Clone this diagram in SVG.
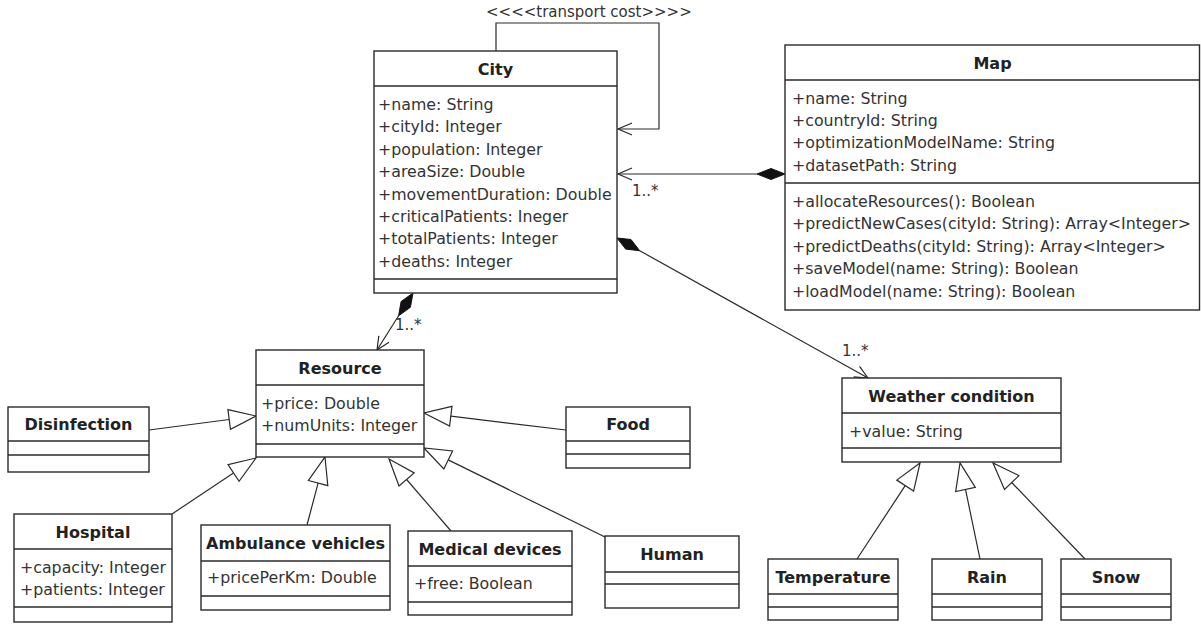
<svg xmlns="http://www.w3.org/2000/svg" width="1201" height="626" viewBox="0 0 1201 626">
<style>
.box{fill:#fff;stroke:#2a2a2a;stroke-width:1.4}
.sep{stroke:#2a2a2a;stroke-width:1.4;fill:none}
.t{font-family:"DejaVu Sans",Verdana,sans-serif;font-size:15.8px;fill:#333}
.b{font-family:"DejaVu Sans",Verdana,sans-serif;font-size:16px;font-weight:bold;fill:#222;text-anchor:middle}
.lbl{font-family:"DejaVu Sans",Verdana,sans-serif;font-size:15px;fill:#333}
.ln{stroke:#2a2a2a;stroke-width:1.2;fill:none}
.tri{fill:#fff;stroke:#2a2a2a;stroke-width:1.2}
.dia{fill:#111;stroke:#111;stroke-width:1}
</style>
<rect width="1201" height="626" fill="#fff"/>

<g id="connectors">
  <!-- self loop City -->
  <polyline class="ln" points="496,51 496,23 659,23 659,129 618,129"/>
  <polyline class="ln" points="632,123 618,129 632,135"/>
  <text class="lbl" x="486" y="17">&lt;&lt;&lt;&lt;transport cost&gt;&gt;&gt;&gt;</text>
  <!-- Map - City -->
  <line class="ln" x1="618" y1="174" x2="757" y2="174"/>
  <polyline class="ln" points="632,168 618,174 632,180"/>
  <polygon class="dia" points="785,174 771,168.5 757,174 771,179.5"/>
  <text class="lbl" x="632" y="196">1..*</text>
  <!-- City - Weather -->
  <polygon class="dia" points="617,238 625.7,249.1 639.7,250.7 631,239.5"/>
  <line class="ln" x1="639.7" y1="250.7" x2="868" y2="378"/>
  <polyline class="ln" points="859.5,366.4 868,378 853.6,376.9"/>
  <text class="lbl" x="842" y="356">1..*</text>
  <!-- City - Resource -->
  <polygon class="dia" points="413,293 410.4,307.3 398.6,315.8 401.1,301.5"/>
  <line class="ln" x1="398.6" y1="315.8" x2="377" y2="350"/>
  <polyline class="ln" points="389,342.2 377,350 378.8,335.8"/>
  <text class="lbl" x="395" y="330">1..*</text>
  <!-- generalizations to Resource -->
  <line class="ln" x1="149" y1="430" x2="229.2" y2="419.5"/>
  <polygon class="tri" points="256,416 230.5,429.4 227.9,409.6"/>
  <line class="ln" x1="566" y1="430" x2="450.8" y2="416.2"/>
  <polygon class="tri" points="424,413 449.6,426.1 452,406.3"/>
  <line class="ln" x1="172" y1="514" x2="233.5" y2="473"/>
  <polygon class="tri" points="256,458 239.1,481.3 228,464.7"/>
  <line class="ln" x1="307" y1="525" x2="318.1" y2="483.1"/>
  <polygon class="tri" points="325,457 327.8,485.7 308.4,480.5"/>
  <line class="ln" x1="451" y1="531" x2="406.6" y2="479.5"/>
  <polygon class="tri" points="389,459 399,486 414.2,472.9"/>
  <line class="ln" x1="605" y1="537" x2="448.2" y2="459.9"/>
  <polygon class="tri" points="424,448 443.8,468.9 452.6,450.9"/>
  <!-- generalizations to Weather condition -->
  <line class="ln" x1="857" y1="559" x2="905.2" y2="485.6"/>
  <polygon class="tri" points="920,463 913.6,491.1 896.8,480.1"/>
  <line class="ln" x1="980" y1="559" x2="965.5" y2="489.4"/>
  <polygon class="tri" points="960,463 955.7,491.5 975.3,487.4"/>
  <line class="ln" x1="1085" y1="559" x2="1011.7" y2="482.5"/>
  <polygon class="tri" points="993,463 1004.5,489.4 1018.9,475.6"/>
</g>

<g id="city">
  <rect class="box" x="374" y="51" width="243" height="242"/>
  <line class="sep" x1="374" y1="86" x2="617" y2="86"/>
  <line class="sep" x1="374" y1="279" x2="617" y2="279"/>
  <text class="b" x="495.5" y="75">City</text>
  <text class="t" x="378" y="110">+name: String</text>
  <text class="t" x="378" y="132.4">+cityId: Integer</text>
  <text class="t" x="378" y="154.8">+population: Integer</text>
  <text class="t" x="378" y="177.2">+areaSize: Double</text>
  <text class="t" x="378" y="199.6">+movementDuration: Double</text>
  <text class="t" x="378" y="222">+criticalPatients: Ineger</text>
  <text class="t" x="378" y="244.4">+totalPatients: Integer</text>
  <text class="t" x="378" y="266.8">+deaths: Integer</text>
</g>

<g id="map">
  <rect class="box" x="785" y="45" width="414.5" height="265"/>
  <line class="sep" x1="785" y1="80" x2="1199.5" y2="80"/>
  <line class="sep" x1="785" y1="183" x2="1199.5" y2="183"/>
  <text class="b" x="992.5" y="68.5">Map</text>
  <text class="t" x="792" y="104">+name: String</text>
  <text class="t" x="792" y="126.2">+countryId: String</text>
  <text class="t" x="792" y="148.4">+optimizationModelName: String</text>
  <text class="t" x="792" y="170.6">+datasetPath: String</text>
  <text class="t" x="792" y="207">+allocateResources(): Boolean</text>
  <text class="t" x="792" y="229.4">+predictNewCases(cityId: String): Array&lt;Integer&gt;</text>
  <text class="t" x="792" y="251.8">+predictDeaths(cityId: String): Array&lt;Integer&gt;</text>
  <text class="t" x="792" y="274.2">+saveModel(name: String): Boolean</text>
  <text class="t" x="792" y="296.6">+loadModel(name: String): Boolean</text>
</g>

<g id="resource">
  <rect class="box" x="256" y="350" width="168" height="107"/>
  <line class="sep" x1="256" y1="385" x2="424" y2="385"/>
  <line class="sep" x1="256" y1="444" x2="424" y2="444"/>
  <text class="b" x="340" y="373.5">Resource</text>
  <text class="t" x="261" y="408.5">+price: Double</text>
  <text class="t" x="261" y="430.5">+numUnits: Integer</text>
</g>

<g id="disinfection">
  <rect class="box" x="8" y="407" width="141" height="65"/>
  <line class="sep" x1="8" y1="441" x2="149" y2="441"/>
  <line class="sep" x1="8" y1="455" x2="149" y2="455"/>
  <text class="b" x="78.5" y="430">Disinfection</text>
</g>

<g id="food">
  <rect class="box" x="566" y="407" width="124" height="61"/>
  <line class="sep" x1="566" y1="441" x2="690" y2="441"/>
  <line class="sep" x1="566" y1="454" x2="690" y2="454"/>
  <text class="b" x="628" y="430">Food</text>
</g>

<g id="hospital">
  <rect class="box" x="14" y="514" width="158" height="108"/>
  <line class="sep" x1="14" y1="549" x2="172" y2="549"/>
  <line class="sep" x1="14" y1="607" x2="172" y2="607"/>
  <text class="b" x="93" y="537.5">Hospital</text>
  <text class="t" x="20" y="572.5">+capacity: Integer</text>
  <text class="t" x="20" y="594.5">+patients: Integer</text>
</g>

<g id="ambulance">
  <rect class="box" x="201" y="525" width="189" height="85"/>
  <line class="sep" x1="201" y1="561" x2="390" y2="561"/>
  <line class="sep" x1="201" y1="596" x2="390" y2="596"/>
  <text class="b" x="295.5" y="549">Ambulance vehicles</text>
  <text class="t" x="207" y="582.5">+pricePerKm: Double</text>
</g>

<g id="medical">
  <rect class="box" x="408" y="531" width="164" height="84"/>
  <line class="sep" x1="408" y1="566" x2="572" y2="566"/>
  <line class="sep" x1="408" y1="602" x2="572" y2="602"/>
  <text class="b" x="490" y="554.5">Medical devices</text>
  <text class="t" x="414" y="588.5">+free: Boolean</text>
</g>

<g id="human">
  <rect class="box" x="605" y="536" width="134" height="72"/>
  <line class="sep" x1="605" y1="572" x2="739" y2="572"/>
  <line class="sep" x1="605" y1="584" x2="739" y2="584"/>
  <text class="b" x="672" y="560">Human</text>
</g>

<g id="weather">
  <rect class="box" x="842" y="378" width="219" height="84"/>
  <line class="sep" x1="842" y1="413" x2="1061" y2="413"/>
  <line class="sep" x1="842" y1="448" x2="1061" y2="448"/>
  <text class="b" x="951.5" y="401.5">Weather condition</text>
  <text class="t" x="849" y="436.5">+value: String</text>
</g>

<g id="temperature">
  <rect class="box" x="768" y="559" width="130" height="61"/>
  <line class="sep" x1="768" y1="594" x2="898" y2="594"/>
  <line class="sep" x1="768" y1="607" x2="898" y2="607"/>
  <text class="b" x="833" y="582.5">Temperature</text>
</g>

<g id="rain">
  <rect class="box" x="932" y="559" width="110" height="61"/>
  <line class="sep" x1="932" y1="594" x2="1042" y2="594"/>
  <line class="sep" x1="932" y1="607" x2="1042" y2="607"/>
  <text class="b" x="987" y="582.5">Rain</text>
</g>

<g id="snow">
  <rect class="box" x="1061" y="559" width="110" height="61"/>
  <line class="sep" x1="1061" y1="594" x2="1171" y2="594"/>
  <line class="sep" x1="1061" y1="607" x2="1171" y2="607"/>
  <text class="b" x="1116" y="582.5">Snow</text>
</g>
</svg>
